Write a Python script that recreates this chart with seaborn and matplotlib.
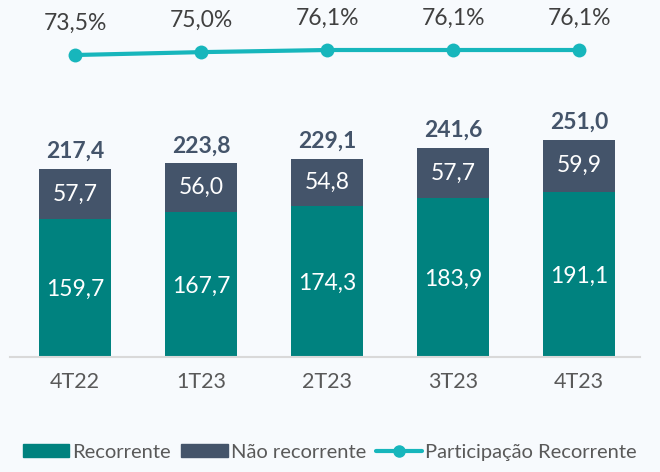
import numpy as np
import pandas as pd
import matplotlib.pyplot as plt
from matplotlib.patches import Patch
from matplotlib.lines import Line2D
import seaborn as sns

# dados do gráfico
trimestres = ['4T22', '1T23', '2T23', '3T23', '4T23']
recorrente = [159.7, 167.7, 174.3, 183.9, 191.1]
nao_recorrente = [57.7, 56.0, 54.8, 57.7, 59.9]
totais = [217.4, 223.8, 229.1, 241.6, 251.0]
participacao = [73.5, 75.0, 76.1, 76.1, 76.1]

cor_rec = '#00827F'
cor_nao = '#44546A'
cor_linha = '#17B6BC'
fundo = '#F7FAFD'

sns.set_style('white')
plt.rcParams['font.family'] = ['Lato', 'DejaVu Sans']

df = pd.DataFrame({'tri': trimestres, 'rec': recorrente, 'nao': nao_recorrente,
                   'total': totais, 'part': participacao})
df['topo'] = df['rec'] + df['nao']

fig = plt.figure(figsize=(6.6, 4.72), dpi=100, facecolor=fundo)
ax = fig.add_axes([10 / 660, 115 / 472, 630 / 660, 357 / 472])
ax.set_facecolor('none')

# barras empilhadas: total (escuro) por trás, recorrente por cima
sns.barplot(data=df, x='tri', y='topo', color=cor_nao, width=0.57, ax=ax, saturation=1)
sns.barplot(data=df, x='tri', y='rec', color=cor_rec, width=0.57, ax=ax, saturation=1)
for p in ax.patches:
    p.set_edgecolor('none')

ax.set_xlim(-0.516, 4.484)
ax.set_ylim(0, 412.7)
ax.set_xlabel('')
ax.set_ylabel('')
ax.set_yticks([])
for s in ['top', 'right', 'left']:
    ax.spines[s].set_visible(False)
ax.spines['bottom'].set_color('#D9D9D9')
ax.spines['bottom'].set_linewidth(1.5)
ax.tick_params(axis='x', length=0, pad=11, labelsize=15.5, labelcolor='#595959')

for i, r in df.iterrows():
    ax.text(i, r['rec'] / 2 - 2, f"{r['rec']:.1f}".replace('.', ','), ha='center', va='center',
            color='white', fontsize=16.5)
    ax.text(i, r['rec'] + r['nao'] / 2, f"{r['nao']:.1f}".replace('.', ','), ha='center', va='center',
            color='white', fontsize=16.5)
    ax.annotate(f"{r['total']:.1f}".replace('.', ','), (i, r['topo']), xytext=(0, 5),
                textcoords='offset points', ha='center', va='bottom', color=cor_nao,
                fontsize=16.5, fontweight='bold')

# linha de participação
ax2 = ax.twinx()
ax2.set_ylim(-83.5, 102.1)
ax2.axis('off')
sns.lineplot(x=np.arange(len(trimestres)), y=participacao, ax=ax2, color=cor_linha,
             linewidth=3, marker='o', markersize=10, markeredgewidth=0)
for i, v in enumerate(participacao):
    ax2.annotate(f"{v:.1f}%".replace('.', ','), (i, v), xytext=(0, 23), textcoords='offset points',
                 ha='center', va='center', color='#404040', fontsize=16.5)

handles = [Patch(color=cor_rec), Patch(color=cor_nao),
           Line2D([0], [0], color=cor_linha, lw=3, marker='o', markersize=8)]
labels = ['Recorrente', 'Não recorrente', 'Participação Recorrente']
fig.legend(handles, labels, loc='lower center', bbox_to_anchor=(0.5, -0.015), ncol=3, frameon=False,
           fontsize=14.5, labelcolor='#595959', handlelength=2.3, handleheight=0.6,
           handletextpad=0.15, columnspacing=0.5)

fig.savefig('out.png', dpi=100, facecolor=fundo)
